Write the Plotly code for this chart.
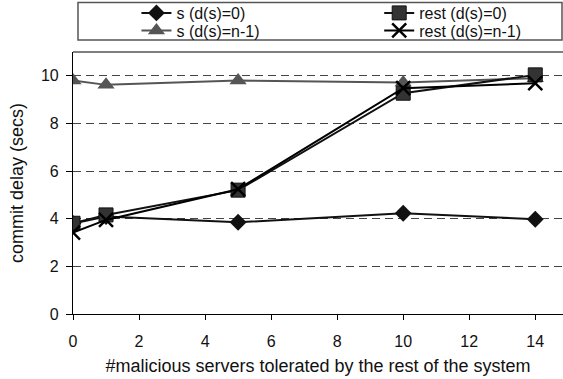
import plotly.graph_objects as go

x_vals = [0, 1, 5, 10, 14]
s_d0 = [3.8, 4.09, 3.85, 4.23, 3.98]
rest_d0 = [3.81, 4.16, 5.2, 9.27, 10.04]
s_dn1 = [9.8, 9.62, 9.8, 9.72, 9.9]
rest_dn1 = [3.42, 3.95, 5.24, 9.48, 9.69]

x_ticks = [0, 2, 4, 6, 8, 10, 12, 14]
y_ticks = [0, 2, 4, 6, 8, 10]

W, H = 563, 379
ML, MR, MT, MB = 72.5, 0, 52, 65
PW = W - ML - MR
PH = H - MT - MB

def px_x(p):
    return (p - ML) / PW

def px_y(p):
    return (H - MB - p) / PH

FONT = "Liberation Sans, Arial, sans-serif"

fig = go.Figure()

fig.add_trace(go.Scatter(
    x=x_vals, y=s_d0, name="s (d(s)=0)", mode="lines+markers",
    line=dict(color="#111111", width=2),
    marker=dict(symbol="diamond", size=13, color="#111111"),
    legend="legend",
))
fig.add_trace(go.Scatter(
    x=x_vals, y=s_dn1, name="s (d(s)=n-1)", mode="lines+markers",
    line=dict(color="#555555", width=2),
    marker=dict(symbol="triangle-up", size=15, color="#555555"),
    legend="legend3",
))
fig.add_trace(go.Scatter(
    x=x_vals, y=rest_d0, name="rest (d(s)=0)", mode="lines+markers",
    line=dict(color="#111111", width=2),
    marker=dict(symbol="square", size=14, color="#333333",
                line=dict(color="#111111", width=1)),
    legend="legend2",
))
fig.add_trace(go.Scatter(
    x=x_vals, y=rest_dn1, name="rest (d(s)=n-1)", mode="lines+markers",
    line=dict(color="#000000", width=2),
    marker=dict(symbol="x-thin", size=14, color="#000000",
                line=dict(color="#000000", width=2.5)),
    legend="legend4",
))

# plot frame top line and legend box
fig.add_shape(type="line", xref="paper", yref="paper", x0=0, x1=1, y0=1, y1=1,
              line=dict(color="#000000", width=1.2))
fig.add_shape(type="rect", xref="paper", yref="paper",
              x0=px_x(77.5), x1=px_x(562), y0=px_y(40), y1=px_y(2.5),
              line=dict(color="#555555", width=1.5), fillcolor="rgba(0,0,0,0)")

leg_common = dict(
    orientation="v", xanchor="left", yanchor="middle",
    bgcolor="rgba(0,0,0,0)", borderwidth=0,
    font=dict(family=FONT, size=16, color="#111111"),
    tracegroupgap=0,
)

COL1, COL2 = 136, 379
ROW1, ROW2 = 13, 30.5

fig.update_layout(
    width=W, height=H,
    margin=dict(l=ML, r=MR, t=MT, b=MB, pad=0, autoexpand=False),
    paper_bgcolor="white", plot_bgcolor="white",
    font=dict(family=FONT, size=16, color="#111111"),
    showlegend=True,
    legend=dict(x=px_x(COL1), y=px_y(ROW1), **leg_common),
    legend2=dict(x=px_x(COL2), y=px_y(ROW1), **leg_common),
    legend3=dict(x=px_x(COL1), y=px_y(ROW2), **leg_common),
    legend4=dict(x=px_x(COL2), y=px_y(ROW2), **leg_common),
    xaxis=dict(
        range=[0, 14.84], tickvals=x_ticks, ticktext=[str(v) for v in x_ticks],
        showgrid=False, zeroline=False,
        showline=True, linecolor="#000000", linewidth=1.2,
        ticks="outside", ticklen=5, tickcolor="#000000", tickwidth=1,
        ticklabelstandoff=8,
        tickfont=dict(family=FONT, size=16, color="#111111"),
        title=dict(text="#malicious servers tolerated by the rest of the system",
                   font=dict(family=FONT, size=18, color="#111111"), standoff=10),
    ),
    yaxis=dict(
        range=[0, 11], tickvals=y_ticks, ticktext=[str(v) for v in y_ticks],
        showgrid=True, gridcolor="#444444", gridwidth=1, griddash="8px,5px",
        zeroline=False,
        showline=True, linecolor="#000000", linewidth=1.2,
        ticks="outside", ticklen=6, tickcolor="#000000", tickwidth=1,
        ticklabelstandoff=4,
        tickfont=dict(family=FONT, size=16, color="#111111"),
        title=dict(text="commit delay (secs)",
                   font=dict(family=FONT, size=18, color="#111111"), standoff=12),
    ),
)

fig.write_html("out.html")
